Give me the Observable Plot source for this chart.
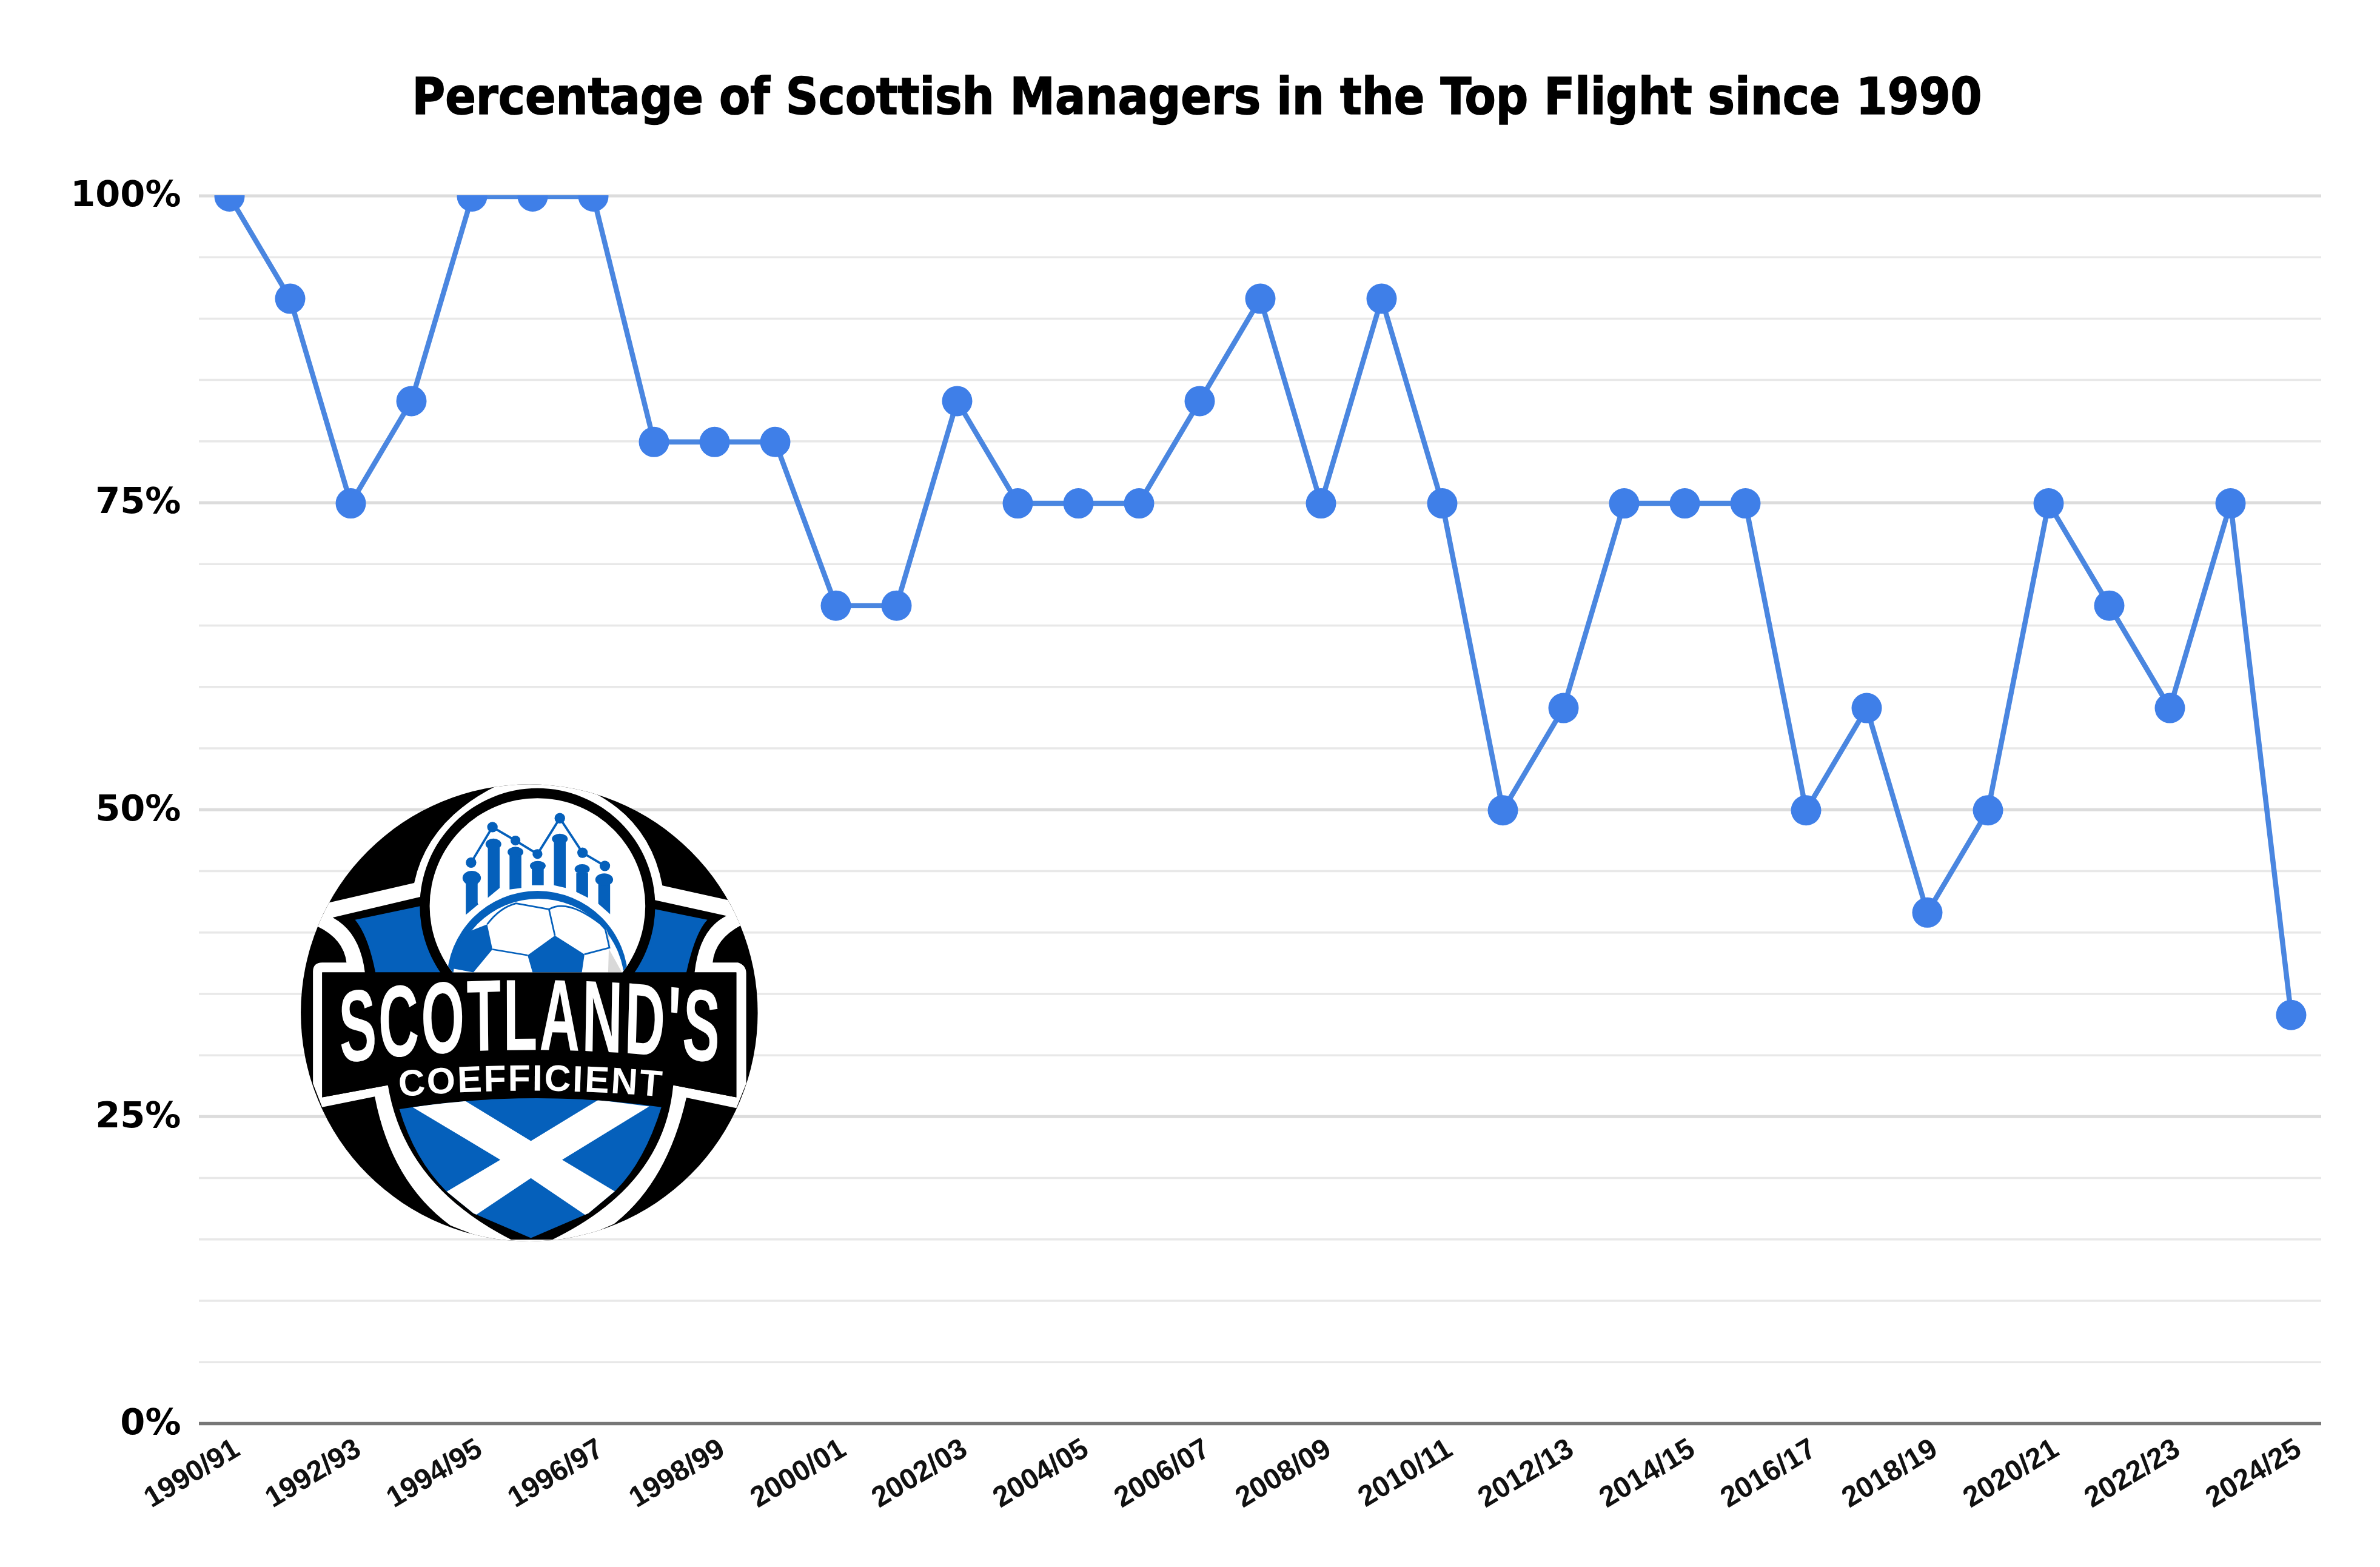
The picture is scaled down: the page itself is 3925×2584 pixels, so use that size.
<!DOCTYPE html>
<html><head><meta charset="utf-8">
<script src="https://cdn.jsdelivr.net/npm/d3@7"></script>
<script src="https://cdn.jsdelivr.net/npm/@observablehq/plot@0.6"></script>
<style>
html,body{margin:0;background:#fff}
#page{position:relative;width:3925px;height:2584px;overflow:hidden}
h1{margin:0;box-sizing:border-box;width:3925px;height:240px;padding:110px 0 0 23px;text-align:center;font:bold 83px/100px "DejaVu Sans Condensed","DejaVu Sans",sans-serif;font-stretch:condensed;color:#000;white-space:nowrap;-webkit-text-stroke:1.5px #000}
#logo{position:absolute;left:450px;top:1250px;width:850px;height:850px}
</style></head><body>
<div id="page">
<h1>Percentage of Scottish Managers in the Top Flight since 1990</h1>
<div id="chart"></div>
<svg id="logo" viewBox="0 0 1568 1568" xmlns="http://www.w3.org/2000/svg">
<defs>
<clipPath id="disc"><circle cx="780" cy="775" r="695"/></clipPath>
<clipPath id="inner"><circle cx="805" cy="450" r="328"/></clipPath>
<clipPath id="shield"><path d="M385 1068Q785 1005 1182 1062Q1130 1230 1040 1318L960 1385L785 1460L610 1385L528 1318Q430 1220 385 1068Z"/></clipPath>
<path id="arcA" d="M373 928Q1427 848 2482 928" fill="none"/>
<path id="arcB" d="M385 1030Q785 993 1200 1032" fill="none"/>
</defs>
<circle cx="780" cy="775" r="695" fill="#000"/>
<path clip-path="url(#disc)" fill="#fff" d="M170 440L430 380Q470 190 680 85L805 60L985 110Q1150 200 1185 388L1385 432L1425 508Q1345 550 1338 622L1415 622Q1440 630 1440 655L1440 990L1410 1065L1258 1033Q1200 1290 1038 1417L850 1500L740 1500L540 1422Q360 1290 310 1030L150 1062L122 990L122 650Q122 622 150 622L224 622Q215 550 135 512Z"/>
<path fill="#000" d="M182 485L450 422L1162 432L1380 480Q1298 520 1283 652L1410 652L1410 1032L1218 995Q1190 1300 850 1465L725 1465Q400 1300 350 995L150 1032L150 652L280 652Q265 530 182 485Z"/>
<path fill="#0560bb" d="M250 492L450 450L510 652L312 652Q290 540 250 492ZM1163 460L1322 492Q1285 530 1258 652L1100 652Z"/>
<circle cx="805" cy="450" r="358" fill="#000"/>
<circle cx="805" cy="450" r="328" fill="#fff"/>
<g fill="#0560bb">
<path d="M587 380h36v60l2 8v-3l-38 32ZM654 270h36v125l-36 30ZM720 295h36v100l-36 5ZM788 335h36v52h-36ZM855 250h36v145l-36-8ZM923 350h36v75l-36-18ZM990 380h36v95l-36-32Z"/>
<ellipse cx="605" cy="365" rx="28" ry="22"/><ellipse cx="671" cy="262" rx="24" ry="17"/><ellipse cx="738" cy="286" rx="24" ry="16"/><ellipse cx="806" cy="328" rx="24" ry="15"/><ellipse cx="873" cy="246" rx="24" ry="16"/><ellipse cx="941" cy="338" rx="23" ry="15"/><ellipse cx="1008" cy="370" rx="27" ry="19"/>
<circle cx="603" cy="318" r="16"/><circle cx="668" cy="210" r="16"/><circle cx="738" cy="251" r="15"/><circle cx="805" cy="292" r="15"/><circle cx="873" cy="183" r="16"/><circle cx="942" cy="288" r="16"/><circle cx="1010" cy="328" r="16"/>
<polyline points="603,318 668,210 738,251 805,292 873,183 942,288 1010,328" fill="none" stroke="#0560bb" stroke-width="7"/>
</g>
<g clip-path="url(#inner)">
<circle cx="805" cy="680" r="286" fill="#fff"/>
<circle cx="805" cy="680" r="276" fill="#0560bb"/>
<circle cx="808" cy="690" r="262" fill="#fff"/>
<path fill="#0560bb" d="M652 506L668 582L610 652L545 640L552 590L585 532Z"/>
<path fill="#0560bb" d="M858 540L948 597L940 652L790 652L775 600Z"/>
<path fill="#d9d9d9" d="M1022 580L1062 652H1020ZM1010 510L1028 575L1022 540Z"/>
<path fill="none" stroke="#0560bb" stroke-width="5" d="M652 506Q690 455 740 442L840 460L858 540M840 460Q900 425 1010 515L1024 577L948 597M668 582L775 600"/>
</g>
<path fill="#000" d="M150 652H1410V1032L1218 995L1182 1062Q785 1005 385 1068L350 995L150 1032Z"/>
<path fill="#0560bb" d="M385 1068Q785 1005 1182 1062Q1130 1230 1040 1318L960 1385L785 1460L610 1385L528 1318Q430 1220 385 1068Z"/>
<g clip-path="url(#shield)" fill="#fff">
<path d="M425 1062L580 1040L785 1165L990 1040L1145 1060L880 1222L1060 1330L958 1395L785 1278L610 1395L510 1330L692 1222Z"/>
</g>
<text transform="scale(.55,1)" font-family="Liberation Sans" font-weight="700" font-size="309" letter-spacing="11" fill="#fff"><textPath href="#arcA">SCOTLAND'S</textPath></text>
<text font-family="Liberation Sans" font-weight="700" font-size="112" fill="#fff" letter-spacing="5"><textPath href="#arcB">COEFFICIENT</textPath></text>
</svg>
</div>
<script>
const seasons = ["1990/91","1991/92","1992/93","1993/94","1994/95","1995/96","1996/97","1997/98","1998/99","1999/00","2000/01","2001/02","2002/03","2003/04","2004/05","2005/06","2006/07","2007/08","2008/09","2009/10","2010/11","2011/12","2012/13","2013/14","2014/15","2015/16","2016/17","2017/18","2018/19","2019/20","2020/21","2021/22","2022/23","2023/24","2024/25"];
const percentages = [100,91.67,75,83.33,100,100,100,80,80,80,66.67,66.67,83.33,75,75,75,83.33,91.67,75,91.67,75,50,58.33,75,75,75,50,58.33,41.67,50,75,66.67,58.33,75,33.33];
const seasonTicks = ["1990/91","1992/93","1994/95","1996/97","1998/99","2000/01","2002/03","2004/05","2006/07","2008/09","2010/11","2012/13","2014/15","2016/17","2018/19","2020/21","2022/23","2024/25"];
const majorTicks = [25,50,75,100];
const minorTicks = [5,10,15,20,30,35,40,45,55,60,65,70,80,85,90,95];
const labelTicks = [0,25,50,75,100];
const baseline = [0];
const rows = seasons.map((season,i)=>({season,value:percentages[i]}));

const chart = Plot.plot({
  width:3925,height:2344,
  marginTop:82,marginBottom:236,marginLeft:328,marginRight:97,
  style:{background:"#fff"},
  x:{type:"point",domain:seasons,padding:.5,axis:null},
  y:{domain:[0,100.07],axis:null},
  marks:[
    Plot.ruleY(minorTicks,{stroke:"#e8e8e8",strokeWidth:3.5,dy:-1}),
    Plot.ruleY(majorTicks,{stroke:"#dcdcdc",strokeWidth:5,dy:-1}),
    Plot.ruleY(baseline,{stroke:"#777",strokeWidth:5.5,dy:-1}),
    Plot.axisY({ticks:labelTicks,tickFormat:d=>d+"%",tickSize:0,tickPadding:30,label:null,dy:-2.5,fontSize:59,fontWeight:"bold",fontFamily:"DejaVu Sans",fill:"#000"}),
    Plot.axisX({ticks:seasonTicks,tickSize:0,tickRotate:-31,tickPadding:28,label:null,dx:12,dy:8,fontSize:48,fontWeight:"bold",fontFamily:"Liberation Sans",fill:"#111"}),
    Plot.line(rows,{x:"season",y:"value",stroke:"#4a86e0",strokeWidth:8.5,clip:true}),
    Plot.dot(rows,{x:"season",y:"value",r:25,fill:"#3f7fe8",stroke:"none",clip:true})
  ]
});
document.getElementById("chart").append(chart);
</script>
</body></html>
